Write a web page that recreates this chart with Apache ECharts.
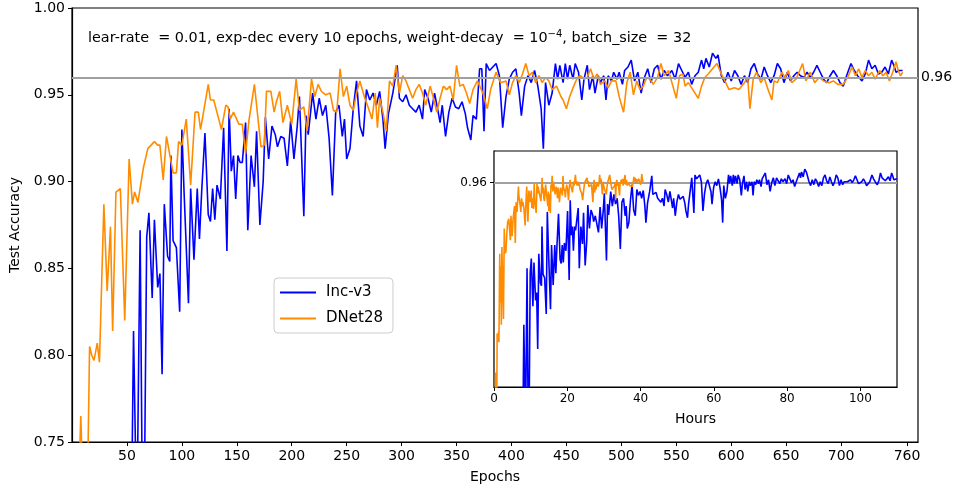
<!DOCTYPE html>
<html>
<head>
<meta charset="utf-8">
<script src="https://cdn.jsdelivr.net/npm/echarts@6.0.0/dist/echarts.min.js"></script>
<style>
html,body{margin:0;padding:0;background:#fff;}
#chart{width:953px;height:491px;}
</style>
</head>
<body>
<div id="chart"></div>
<script>
// ---------------- data ----------------
const incEpochs = [0,10,20,30,40,48,54,56,59,62,64,66,68,70,73,75,78,80,82,84,87,89,90,92,95,98,100,102,106,108,111,114,116,118,121,124,126,128,130,132,135,138,141,143,145,147,149,151,153,155,158,160,163,166,168,171,174,176,179,182,185,187,190,193,196,199,202,205,207,211,213,215,219,222,225,228,231,234,237,240,243,246,248,250,253,256,259,262,265,268,271,274,277,280,283,285,288,292,296,298,301,304,307,310,313,316,319,321,324,327,330,333,335,337,340,343,346,349,352,355,358,360,363,365,368,371,373,375,377,380,383,386,389,392,395,398,401,404,407,409,412,415,418,421,424,427,429,431,434,437,440,442,444,447,449,451,453,456,458,461,464,466,469,471,474,476,479,481,484,486,488,491,493,496,498,501,503,506,509,512,515,518,521,524,527,530,533,536,539,542,546,549,552,555,558,561,564,567,570,573,575,577,580,583,586,588,591,594,597,600,603,606,609,612,615,618,621,624,627,630,633,636,639,642,645,648,651,654,657,660,663,666,669,672,675,678,681,684,687,690,693,696,699,702,705,709,712,715,719,722,725,728,731,734,737,740,743,746,748,750,753,756];
const incAcc = [0.40,0.55,0.62,0.66,0.70,0.72,0.70,0.814,0.70,0.872,0.72,0.73,0.868,0.882,0.833,0.878,0.839,0.847,0.789,0.887,0.857,0.854,0.915,0.866,0.862,0.825,0.930,0.894,0.830,0.896,0.855,0.896,0.867,0.894,0.928,0.881,0.877,0.896,0.878,0.898,0.890,0.931,0.860,0.942,0.906,0.915,0.890,0.915,0.911,0.911,0.934,0.872,0.915,0.897,0.929,0.875,0.900,0.937,0.913,0.932,0.927,0.920,0.926,0.925,0.909,0.935,0.913,0.932,0.949,0.880,0.938,0.927,0.951,0.936,0.948,0.938,0.944,0.925,0.892,0.940,0.944,0.926,0.936,0.913,0.919,0.942,0.958,0.932,0.926,0.953,0.947,0.951,0.944,0.952,0.936,0.919,0.939,0.951,0.967,0.948,0.946,0.950,0.944,0.942,0.940,0.944,0.936,0.953,0.948,0.940,0.951,0.941,0.934,0.944,0.926,0.940,0.948,0.943,0.942,0.946,0.939,0.931,0.924,0.938,0.936,0.965,0.965,0.929,0.968,0.964,0.966,0.968,0.961,0.931,0.949,0.959,0.963,0.965,0.951,0.938,0.955,0.961,0.957,0.964,0.955,0.942,0.919,0.957,0.944,0.951,0.968,0.959,0.967,0.957,0.968,0.959,0.967,0.959,0.968,0.963,0.947,0.959,0.967,0.953,0.961,0.951,0.961,0.957,0.961,0.947,0.961,0.958,0.963,0.959,0.963,0.956,0.964,0.966,0.970,0.958,0.963,0.951,0.960,0.965,0.957,0.965,0.967,0.959,0.964,0.961,0.964,0.959,0.968,0.964,0.960,0.963,0.956,0.961,0.963,0.970,0.965,0.971,0.966,0.974,0.971,0.973,0.961,0.957,0.963,0.958,0.964,0.961,0.956,0.961,0.957,0.965,0.968,0.962,0.959,0.966,0.961,0.957,0.961,0.968,0.965,0.957,0.963,0.958,0.961,0.963,0.961,0.960,0.963,0.960,0.963,0.967,0.963,0.959,0.957,0.961,0.964,0.961,0.957,0.955,0.961,0.968,0.964,0.961,0.958,0.962,0.970,0.965,0.967,0.962,0.963,0.966,0.962,0.970,0.967,0.963,0.964,0.964];

const dnetEpochs = [0,4,8,11,14,16,18,20,23,25,29,32,35,37,40,44,48,52,55,57,60,65,69,75,78,80,83,86,92,95,97,100,104,108,112,115,117,124,126,129,134,136,140,142,144,147,152,155,158,161,166,169,172,175,177,181,184,186,189,192,196,200,204,207,211,214,218,221,224,227,231,235,238,241,244,247,250,253,256,259,262,266,270,273,276,278,280,283,286,289,292,295,298,301,304,307,310,313,316,319,322,326,329,332,335,338,341,344,347,350,353,356,359,362,365,369,374,378,381,386,390,395,398,401,404,407,410,413,416,419,422,425,428,431,434,437,441,445,447,450,453,456,460,463,466,469,472,475,478,481,485,488,491,495,498,502,505,508,511,514,517,520,523,526,529,533,536,539,543,546,550,553,556,558,561,565,570,573,576,579,583,587,591,595,598,603,607,612,615,617,620,623,627,630,633,637,639,642,646,649,652,655,659,665,668,672,676,680,684,689,693,697,702,706,710,713,716,719,722,725,728,731,735,738,741,744,747,750,752,754,756];
const dnetAcc = [0.55,0.68,0.765,0.70,0.72,0.805,0.800,0.797,0.807,0.796,0.887,0.837,0.874,0.814,0.894,0.896,0.820,0.913,0.887,0.894,0.888,0.908,0.919,0.923,0.921,0.921,0.901,0.926,0.905,0.905,0.923,0.921,0.936,0.898,0.940,0.940,0.930,0.956,0.947,0.947,0.935,0.930,0.944,0.943,0.936,0.940,0.933,0.933,0.916,0.935,0.956,0.938,0.920,0.921,0.952,0.952,0.940,0.946,0.952,0.934,0.944,0.933,0.959,0.941,0.943,0.929,0.959,0.949,0.956,0.952,0.950,0.951,0.941,0.940,0.965,0.949,0.955,0.944,0.941,0.951,0.958,0.949,0.942,0.936,0.951,0.931,0.948,0.940,0.929,0.958,0.955,0.967,0.951,0.961,0.958,0.953,0.948,0.953,0.956,0.951,0.944,0.955,0.948,0.940,0.948,0.955,0.953,0.955,0.947,0.967,0.955,0.956,0.951,0.945,0.953,0.958,0.951,0.942,0.953,0.963,0.957,0.958,0.950,0.957,0.961,0.957,0.962,0.968,0.961,0.963,0.957,0.961,0.957,0.960,0.958,0.953,0.955,0.949,0.947,0.942,0.949,0.954,0.960,0.961,0.959,0.960,0.965,0.959,0.962,0.956,0.958,0.954,0.958,0.958,0.949,0.940,0.957,0.963,0.950,0.958,0.953,0.955,0.960,0.959,0.956,0.960,0.968,0.961,0.964,0.957,0.948,0.961,0.962,0.955,0.957,0.953,0.948,0.955,0.960,0.962,0.965,0.968,0.962,0.957,0.953,0.954,0.953,0.957,0.960,0.942,0.959,0.963,0.957,0.960,0.954,0.947,0.958,0.957,0.963,0.960,0.964,0.957,0.959,0.968,0.958,0.963,0.957,0.960,0.958,0.957,0.958,0.956,0.956,0.960,0.966,0.961,0.965,0.960,0.964,0.961,0.963,0.959,0.964,0.961,0.963,0.958,0.963,0.969,0.964,0.961,0.963];

// wall-clock hours per epoch (inset x axis)
const incHoursPerEpoch = 0.1455;
const dnetHoursPerEpoch = 0.0538;

const seriesNames = ['Inc-v3', 'DNet28'];
const epochTicks = [50,100,150,200,250,300,350,400,450,500,550,600,650,700,760];
const refLevel = 0.96;
const annotation = ['lear-rate  = 0.01, exp-dec every 10 epochs, weight-decay  = 10', '\u22124', ', batch_size  = 32'];

// ---------------- chart ----------------
const FONT = 'DejaVu Sans';
const BLUE = '#0000ff';
const ORANGE = '#ff8c00';
const GREY = '#a0a0a0';

const zip = (xs, ys, k) => xs.map((x, i) => [x * k, ys[i]]);

const chart = echarts.init(document.getElementById('chart'), null, {renderer: 'canvas'});

const lineStyleBase = {width: 1.6};

chart.setOption({
  animation: false,
  backgroundColor: '#fff',
  textStyle: {fontFamily: FONT},
  grid: [
    {left: 70, right: 35, top: 8, bottom: 49, show: true, borderColor: '#000', borderWidth: 1.2, backgroundColor: 'transparent', z: 0},
    {left: 494, right: 56, top: 151, bottom: 104, show: true, borderColor: '#000', borderWidth: 1.2, backgroundColor: '#fff', z: 5}
  ],
  legend: {
    orient: 'vertical',
    left: 274, top: 278,
    data: seriesNames,
    icon: 'rect',
    itemWidth: 36, itemHeight: 2, itemGap: 11,
    padding: [7, 10, 7, 6],
    borderColor: '#cccccc', borderWidth: 1, borderRadius: 4,
    backgroundColor: '#fff',
    textStyle: {fontSize: 15, color: '#000', fontFamily: FONT, padding: [0, 0, 0, 5]}
  },
  xAxis: [
    {
      type: 'value', gridIndex: 0, min: 0, max: 770,
      name: 'Epochs', nameLocation: 'middle', nameGap: 28,
      nameTextStyle: {fontSize: 14, color: '#000', fontFamily: FONT},
      axisLine: {show: true, lineStyle: {color: '#000', width: 1.2}},
      axisTick: {show: true, length: 4, customValues: epochTicks, lineStyle: {color: '#000'}},
      axisLabel: {customValues: epochTicks, fontSize: 14, color: '#000', margin: 7, fontFamily: FONT},
      splitLine: {show: false}
    },
    {
      type: 'value', gridIndex: 1, min: 0, max: 110, interval: 20,
      name: 'Hours', nameLocation: 'middle', nameGap: 25,
      nameTextStyle: {fontSize: 14, color: '#000', fontFamily: FONT},
      axisLine: {show: true, lineStyle: {color: '#000', width: 1.2}},
      axisTick: {show: true, length: 4, lineStyle: {color: '#000'}},
      axisLabel: {fontSize: 12, color: '#000', margin: 6, fontFamily: FONT,
        showMaxLabel: false},
      splitLine: {show: false}
    }
  ],
  yAxis: [
    {
      type: 'value', gridIndex: 0, min: 0.75, max: 1.0, interval: 0.05,
      name: 'Test Accuracy', nameLocation: 'middle', nameGap: 50,
      nameTextStyle: {fontSize: 14, color: '#000', fontFamily: FONT},
      axisLine: {show: true, lineStyle: {color: '#000', width: 1.2}},
      axisTick: {show: true, length: 4, lineStyle: {color: '#000'}},
      axisLabel: {fontSize: 14, color: '#000', margin: 7, fontFamily: FONT,
        formatter: v => v.toFixed(2)},
      splitLine: {show: false}
    },
    {
      type: 'value', gridIndex: 1, min: 0.75, max: 0.9926,
      axisLine: {show: true, lineStyle: {color: '#000', width: 1.2}},
      axisTick: {show: true, length: 4, customValues: [refLevel], lineStyle: {color: '#000'}},
      axisLabel: {customValues: [refLevel], fontSize: 12, color: '#000', margin: 7, fontFamily: FONT,
        formatter: v => v.toFixed(2)},
      splitLine: {show: false}
    }
  ],
  graphic: [{
    type: 'text', left: 88, top: 29, z: 100,
    style: {
      text: '{a|' + annotation[0] + '}{s|' + annotation[1] + '}{a|' + annotation[2] + '}',
      rich: {
        a: {fontSize: 14.4, fontFamily: FONT, fill: '#000', color: '#000'},
        s: {fontSize: 10, fontFamily: FONT, fill: '#000', color: '#000', padding: [0, 0, 9, 0]}
      }
    }
  }],
  series: [
    {
      name: seriesNames[0], type: 'line', xAxisIndex: 0, yAxisIndex: 0,
      data: zip(incEpochs, incAcc, 1), symbol: 'none', clip: true, z: 2,
      lineStyle: Object.assign({color: BLUE}, lineStyleBase), itemStyle: {color: BLUE},
      markLine: {
        silent: true, symbol: 'none',
        lineStyle: {color: GREY, width: 1.8, type: 'solid'},
        label: {show: true, position: 'end', formatter: '0.96', fontSize: 14, color: '#000', fontFamily: FONT, distance: 3, padding: [0, 0, 8, 0]},
        data: [{yAxis: refLevel}]
      }
    },
    {
      name: seriesNames[1], type: 'line', xAxisIndex: 0, yAxisIndex: 0,
      data: zip(dnetEpochs, dnetAcc, 1), symbol: 'none', clip: true, z: 3,
      lineStyle: Object.assign({color: ORANGE}, lineStyleBase), itemStyle: {color: ORANGE}
    },
    {
      name: seriesNames[0], type: 'line', xAxisIndex: 1, yAxisIndex: 1,
      data: zip(incEpochs, incAcc, incHoursPerEpoch), symbol: 'none', clip: true, z: 6,
      lineStyle: Object.assign({color: BLUE}, lineStyleBase), itemStyle: {color: BLUE},
      markLine: {
        silent: true, symbol: 'none',
        lineStyle: {color: GREY, width: 1.8, type: 'solid'},
        label: {show: false},
        data: [{yAxis: refLevel}]
      }
    },
    {
      name: seriesNames[1], type: 'line', xAxisIndex: 1, yAxisIndex: 1,
      data: zip(dnetEpochs, dnetAcc, dnetHoursPerEpoch), symbol: 'none', clip: true, z: 7,
      lineStyle: Object.assign({color: ORANGE}, lineStyleBase), itemStyle: {color: ORANGE}
    }
  ]
});
</script>
</body>
</html>
